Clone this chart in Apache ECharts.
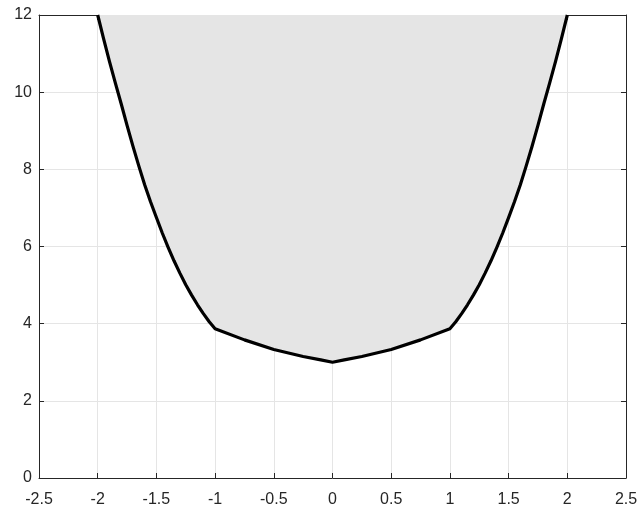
<!DOCTYPE html>
<html>
<head>
<meta charset="utf-8">
<script src="https://cdn.jsdelivr.net/npm/echarts@6/dist/echarts.min.js"></script>
<style>html,body{margin:0;padding:0;background:#fff}#c{width:641px;height:512px}</style>
</head>
<body>
<div id="c"></div>
<script>
const xValues = [-2, -1.95, -1.9, -1.85, -1.8, -1.75, -1.7, -1.65, -1.6, -1.55, -1.5, -1.45, -1.4, -1.35, -1.3, -1.25, -1.2, -1.15, -1.1, -1.05, -1, -0.75, -0.5, -0.25, -0.1, 0, 0.1, 0.25, 0.5, 0.75, 1, 1.05, 1.1, 1.15, 1.2, 1.25, 1.3, 1.35, 1.4, 1.45, 1.5, 1.55, 1.6, 1.65, 1.7, 1.75, 1.8, 1.85, 1.9, 1.95, 2];
const yValues = [12, 11.39, 10.8, 10.24, 9.7, 9.14, 8.6, 8.09, 7.6, 7.16, 6.75, 6.35, 5.98, 5.63, 5.31, 5.01, 4.74, 4.49, 4.26, 4.05, 3.87, 3.58, 3.33, 3.15, 3.06, 3.0, 3.06, 3.15, 3.33, 3.58, 3.87, 4.05, 4.26, 4.49, 4.74, 5.01, 5.31, 5.63, 5.98, 6.35, 6.75, 7.16, 7.6, 8.09, 8.6, 9.14, 9.7, 10.24, 10.8, 11.39, 12];
const xTicks = { min: -2.5, max: 2.5, interval: 0.5 };
const yTicks = { min: 0, max: 12, interval: 2 };

const axisColor = '#262626';
const font = 'Liberation Sans, Arial, Helvetica, sans-serif';
const chart = echarts.init(document.getElementById('c'), null, { renderer: 'canvas' });
const pts = xValues.map((x, i) => [x, yValues[i]]);
const mainAxisCommon = {
  type: 'value',
  axisLine: { show: true, onZero: false, lineStyle: { color: axisColor, width: 1 } },
  axisTick: { show: true, inside: true, length: 5, lineStyle: { color: axisColor } },
  splitLine: { show: true, lineStyle: { color: '#e5e5e5', width: 1 } },
  axisLabel: { color: axisColor, fontFamily: font, fontSize: 16 }
};
const secAxisCommon = {
  type: 'value',
  axisLine: { show: true, onZero: false, lineStyle: { color: axisColor, width: 1 } },
  axisTick: { show: true, inside: true, length: 5, lineStyle: { color: axisColor } },
  splitLine: { show: false },
  axisLabel: { show: false }
};
chart.setOption({
  animation: false,
  grid: { left: 39, right: 15, top: 15, bottom: 34, containLabel: false },
  xAxis: [
    Object.assign({}, mainAxisCommon, xTicks, { position: 'bottom', axisLabel: Object.assign({}, mainAxisCommon.axisLabel, { margin: 14 }) }),
    Object.assign({}, secAxisCommon, xTicks, { position: 'top' })
  ],
  yAxis: [
    Object.assign({}, mainAxisCommon, yTicks, { position: 'left', axisLabel: Object.assign({}, mainAxisCommon.axisLabel, { margin: 7 }) }),
    Object.assign({}, secAxisCommon, yTicks, { position: 'right' })
  ],
  series: [{
    type: 'line',
    data: pts,
    xAxisIndex: 0,
    yAxisIndex: 0,
    showSymbol: false,
    symbol: 'none',
    smooth: false,
    lineStyle: { color: '#000', width: 3.2, join: 'round' },
    areaStyle: { color: '#e5e5e5', opacity: 1, origin: 'end' },
    z: 2
  }]
});
</script>
</body>
</html>
